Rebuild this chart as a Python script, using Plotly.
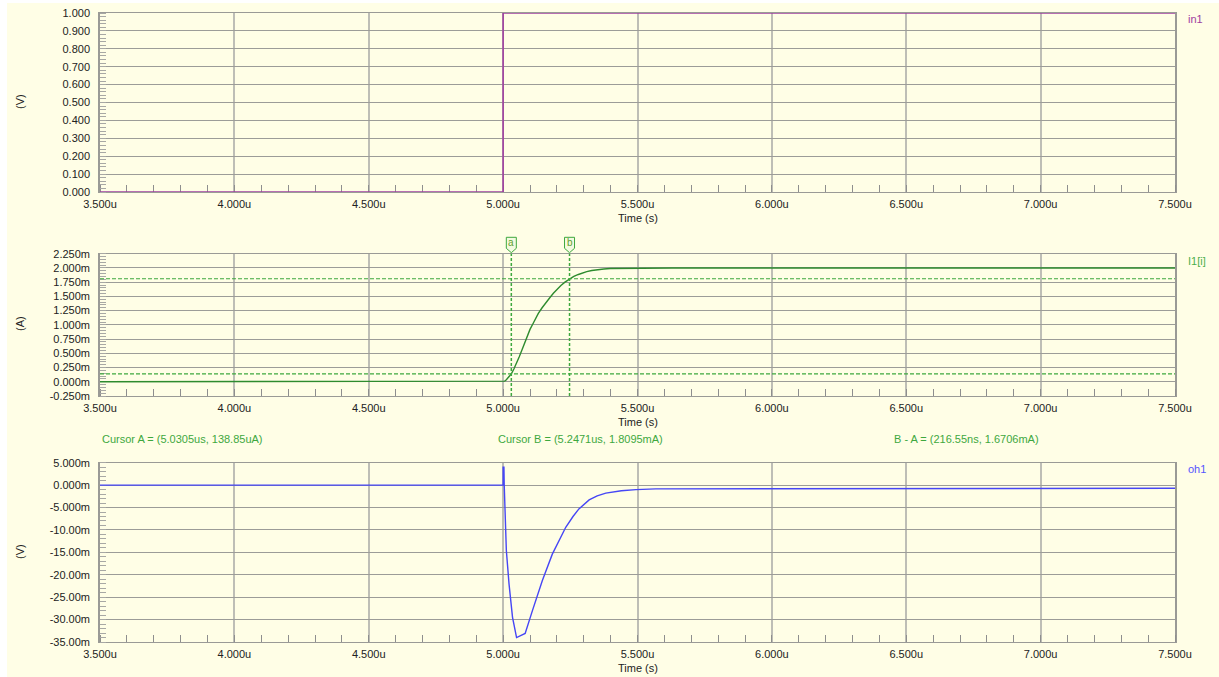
import plotly.graph_objects as go

# ---------------- data ----------------
x_ticks = [3.5, 4.0, 4.5, 5.0, 5.5, 6.0, 6.5, 7.0, 7.5]
x_ticklabels = ["3.500u", "4.000u", "4.500u", "5.000u", "5.500u", "6.000u", "6.500u", "7.000u", "7.500u"]

y1_ticks = [0.0, 0.1, 0.2, 0.3, 0.4, 0.5, 0.6, 0.7, 0.8, 0.9, 1.0]
y1_ticklabels = ["0.000", "0.100", "0.200", "0.300", "0.400", "0.500", "0.600", "0.700", "0.800", "0.900", "1.000"]

y2_ticks = [-0.25, 0.0, 0.25, 0.5, 0.75, 1.0, 1.25, 1.5, 1.75, 2.0, 2.25]
y2_ticklabels = ["-0.250m", "0.000m", "0.250m", "0.500m", "0.750m", "1.000m", "1.250m", "1.500m", "1.750m", "2.000m", "2.250m"]

y3_ticks = [-35, -30, -25, -20, -15, -10, -5, 0, 5]
y3_ticklabels = ["-35.00m", "-30.00m", "-25.00m", "-20.00m", "-15.00m", "-10.00m", "-5.000m", "0.000m", "5.000m"]

# in1 (V) vs time (us)
t_in1 = [3.5, 5.0, 5.0, 7.5]
v_in1 = [0.0, 0.0, 1.0, 1.0]

# I1[i] (mA) vs time (us)
t_i1 = [3.5, 5.0, 5.006, 5.012, 5.020, 5.0305, 5.040, 5.050, 5.060, 5.070, 5.080, 5.088, 5.100, 5.110, 5.120,
        5.131, 5.145, 5.160, 5.175, 5.187, 5.200, 5.215, 5.230, 5.2471, 5.263, 5.280, 5.295, 5.311, 5.330,
        5.350, 5.375, 5.398, 5.45, 5.50, 5.63, 7.5]
i_i1 = [0.0, 0.0, 0.012, 0.035, 0.075, 0.13885, 0.225, 0.325, 0.44, 0.56, 0.68, 0.793, 0.92, 1.01, 1.11,
        1.20, 1.30, 1.40, 1.485, 1.555, 1.625, 1.69, 1.75, 1.8095, 1.85, 1.885, 1.912, 1.935, 1.955,
        1.97, 1.982, 1.99, 1.995, 1.998, 2.0, 2.0]

# oh1 (mV) vs time (us)
t_oh1 = [3.5, 5.0, 5.0, 5.003, 5.004, 5.006, 5.010, 5.012, 5.022, 5.035, 5.050, 5.082, 5.109, 5.146, 5.183,
         5.233, 5.260, 5.282, 5.320, 5.350, 5.382, 5.440, 5.494, 5.568, 7.5]
v_oh1 = [0.0, 0.0, 4.0, 4.0, 0.2, -3.0, -9.4, -14.6, -22.1, -29.5, -34.0, -33.1, -28.0, -21.3, -15.4,
         -9.4, -7.0, -5.3, -3.3, -2.4, -1.8, -1.25, -1.0, -0.85, -0.7]

# cursors
cursor_a = (5.0305, 0.13885)
cursor_b = (5.2471, 1.8095)
cursor_texts = ["Cursor A = (5.0305us, 138.85uA)", "Cursor B = (5.2471us, 1.8095mA)", "B - A = (216.55ns, 1.6706mA)"]

# ---------------- style ----------------
W, H = 1219, 677
BG = "#FFFEE6"
YGRID = "#9C9C98"
XGRID = "#BEBEB6"
FRAME = "#9A9A96"
TICKC = "#222222"
PURPLE = "#A040A0"
GREEN = "#2E8B2E"
CUR = "#3EA83E"
BLUE = "#4646F5"
FONT = "Liberation Sans, Arial, sans-serif"

xl, xr = 100, 1175
panels = [(13, 192), (253.7, 396), (462.7, 642)]
U_PER_PX = 4.0 / (xr - xl)


def dom(top, bot):
    return [1 - bot / H, 1 - top / H]


fig = go.Figure()
fig.add_trace(go.Scatter(x=t_in1, y=v_in1, mode="lines", line=dict(color=PURPLE, width=1.6),
                         xaxis="x", yaxis="y", showlegend=False))
fig.add_trace(go.Scatter(x=t_i1, y=i_i1, mode="lines", line=dict(color=GREEN, width=1.4),
                         xaxis="x2", yaxis="y2", showlegend=False))
fig.add_trace(go.Scatter(x=t_oh1, y=v_oh1, mode="lines", line=dict(color=BLUE, width=1.4),
                         xaxis="x3", yaxis="y3", showlegend=False))

xcommon = dict(range=[3.5, 7.5], tickvals=x_ticks, ticktext=x_ticklabels, showgrid=True, gridcolor=XGRID,
               gridwidth=1.6, zeroline=False, showline=True, linecolor=FRAME, linewidth=1, mirror=True, ticks="",
               tickfont=dict(family=FONT, size=11, color=TICKC), ticklabelstandoff=2, automargin=False,
               domain=[xl / W, xr / W], layer="below traces",
               minor=dict(dtick=0.1, tick0=3.5, ticks="inside", ticklen=7, tickcolor="#8E8E8E", showgrid=False))

ycommon = dict(showgrid=True, gridcolor=YGRID, gridwidth=1, zeroline=False, showline=True, linecolor=FRAME,
               linewidth=1.6, mirror=True, ticks="", tickfont=dict(family=FONT, size=11, color=TICKC),
               ticklabelstandoff=6, automargin=False, layer="below traces")

fig.update_layout(
    template="none",
    width=W, height=H, autosize=False, margin=dict(l=0, r=0, t=0, b=0, pad=0, autoexpand=False),
    paper_bgcolor="white", plot_bgcolor=BG, showlegend=False,
    xaxis=dict(**xcommon, anchor="y"),
    xaxis2=dict(**xcommon, anchor="y2"),
    xaxis3=dict(**xcommon, anchor="y3"),
    yaxis=dict(**ycommon, anchor="x", domain=dom(*panels[0]), range=[0, 1], tickvals=y1_ticks, ticktext=y1_ticklabels,
               minor=dict(dtick=0.02, tick0=0, ticks="inside", ticklen=6, tickcolor="#A8A8A4", showgrid=False)),
    yaxis2=dict(**ycommon, anchor="x2", domain=dom(*panels[1]), range=[-0.25, 2.25], tickvals=y2_ticks, ticktext=y2_ticklabels,
                minor=dict(dtick=0.05, tick0=0, ticks="inside", ticklen=6, tickcolor="#A8A8A4", showgrid=False)),
    yaxis3=dict(**ycommon, anchor="x3", domain=dom(*panels[2]), range=[-35, 5], tickvals=y3_ticks, ticktext=y3_ticklabels,
                minor=dict(dtick=1, tick0=0, ticks="inside", ticklen=6, tickcolor="#A8A8A4", showgrid=False)),
)

shapes = [
    dict(type="rect", xref="paper", yref="paper", x0=7 / W, x1=1, y0=0, y1=1 - 3 / H,
         fillcolor=BG, line=dict(width=0), layer="below"),
]
y_top, y_box, y_pt = 1 - 237.3 / H, 1 - 248.3 / H, 1 - 252.7 / H
hw = 5 * U_PER_PX
for cx, cy in (cursor_a, cursor_b):
    shapes.append(dict(type="line", xref="x2", yref="y2 domain", x0=cx, x1=cx, y0=0, y1=1,
                       line=dict(color=CUR, width=1.5, dash="3px,2px")))
    shapes.append(dict(type="line", xref="x2 domain", yref="y2", x0=0, x1=1, y0=cy, y1=cy,
                       line=dict(color=CUR, width=1.1, dash="4px,2px")))
    shapes.append(dict(type="path", xref="x2", yref="paper",
                       path=f"M {cx - hw},{y_top} L {cx + hw},{y_top} L {cx + hw},{y_box} L {cx},{y_pt} "
                            f"L {cx - hw},{y_box} Z",
                       fillcolor="#F4FAE0", line=dict(color=CUR, width=1)))
fig.update_layout(shapes=shapes)

ann = []
for cx, lab in ((cursor_a[0], "a"), (cursor_b[0], "b")):
    ann.append(dict(x=cx, xref="x2", y=1 - 242.8 / H, yref="paper", text=lab, showarrow=False,
                    font=dict(family=FONT, size=10, color="#5FA02E"), xanchor="center", yanchor="middle"))
for xpix, txt in zip([100, 496, 891.5], cursor_texts):
    ann.append(dict(x=xpix / W, xref="paper", y=1 - 439 / H, yref="paper", text=txt, showarrow=False,
                    font=dict(family=FONT, size=11, color=CUR), xanchor="left", yanchor="middle"))
for ypix, txt, col in ((19, "in1", PURPLE), (261, "I1[i]", "#4CAF4C"), (469, "oh1", "#5555FF")):
    ann.append(dict(x=1186 / W, xref="paper", y=1 - ypix / H, yref="paper", text=txt, showarrow=False,
                    font=dict(family=FONT, size=11, color=col), xanchor="left", yanchor="middle"))
for ypix, txt in ((102, "(V)"), (324, "(A)"), (552, "(V)")):
    ann.append(dict(x=20 / W, xref="paper", y=1 - ypix / H, yref="paper", text=txt, showarrow=False,
                    textangle=-90, font=dict(family=FONT, size=11, color=TICKC), xanchor="center", yanchor="middle"))
for ypix in (218, 422, 668):
    ann.append(dict(x=(xl + xr) / 2 / W, xref="paper", y=1 - ypix / H, yref="paper", text="Time (s)",
                    showarrow=False, font=dict(family=FONT, size=11, color=TICKC), xanchor="center", yanchor="middle"))
fig.update_layout(annotations=ann)

fig.write_html("out.html")
